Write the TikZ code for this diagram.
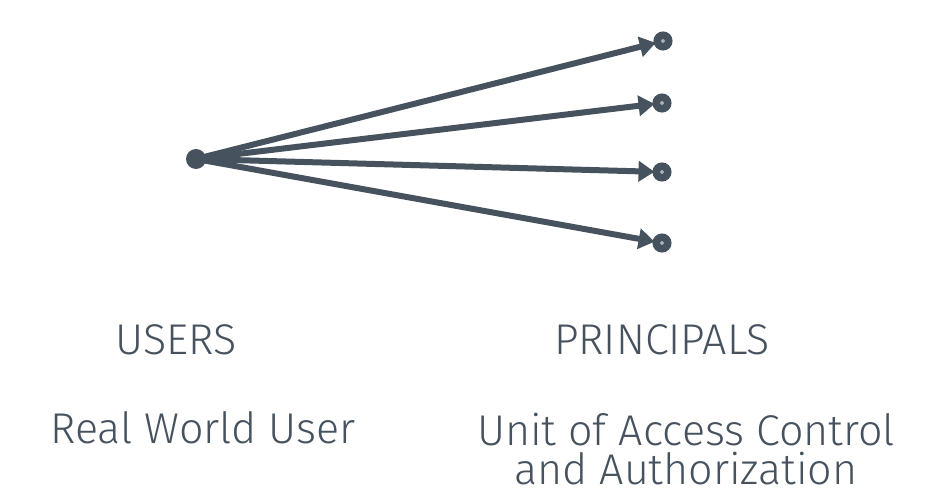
\documentclass[tikz,border=0pt]{standalone}
\usepackage{fontspec}
\setmainfont{Fira Sans Light}
\usetikzlibrary{arrows.meta}
\definecolor{slate}{HTML}{46525E}
\tikzset{
    userdot/.style={circle, fill=slate, inner sep=0pt, minimum size=20pt},
    princdot/.style={circle, draw=slate, fill=slate!45, line width=7.5pt, inner sep=0pt, minimum size=11.5pt},
    link/.style={draw=slate, line width=6pt, -{Triangle[length=16pt, width=20pt]}, shorten >=-2pt},
    label/.style={text=slate, font=\fontsize{43}{39}\selectfont, align=center, inner sep=0pt}
}
\begin{document}
\begin{tikzpicture}[x=1pt, y=-1pt]
    \def\ux{196}
    \def\uy{159}
    \def\px{662}
    \useasboundingbox (0,0) rectangle (938,502);

    % the real world user
    \node[userdot] (user) at (\ux, \uy) {};

    % the principals on the right
    \node[princdot] (p1) at (\px + 1, 41) {};
    \node[princdot] (p2) at (\px, 103) {};
    \node[princdot] (p3) at (\px, 172) {};
    \node[princdot] (p4) at (\px, 243) {};

    % one user, many principals
    \foreach \p in {p1, p2, p3, p4}
        \draw[link] (user.center) -- (\p);

    % labels
    \node[label] (users) at (176, 340) {USERS};
    \node[label] (principals) at (662, 340) {PRINCIPALS};
    \node[label] (realuser) at (203, 428) {Real World User};
    \node[label] (unit) at (686, 449) {Unit of Access Control\\and Authorization};
\end{tikzpicture}
\end{document}
